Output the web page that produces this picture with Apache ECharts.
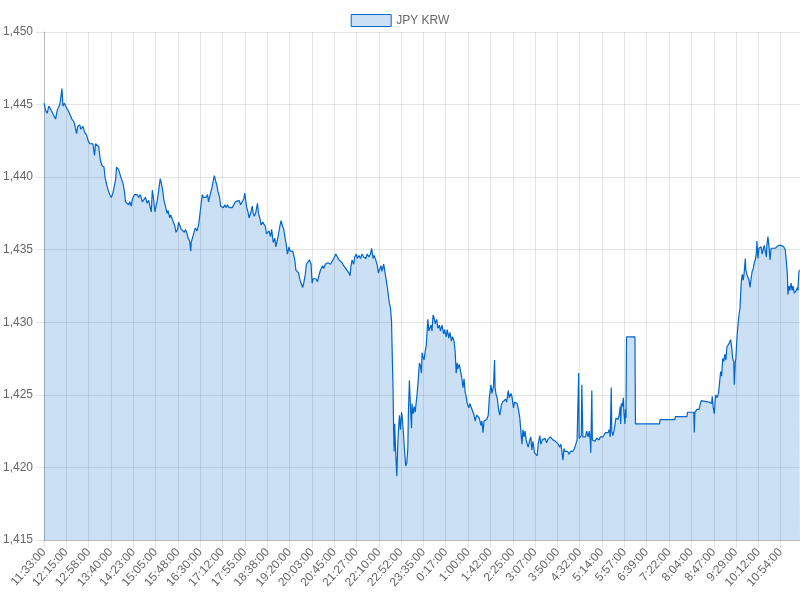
<!DOCTYPE html>
<html>
<head>
<meta charset="utf-8">
<title>JPY KRW</title>
<script src="https://cdn.jsdelivr.net/npm/echarts@6/dist/echarts.min.js"></script>
<style>
    html, body { margin: 0; padding: 0; background: #fff; }
    #mychart { width: 800px; height: 600px; }
</style>
</head>
<body>
<div id="mychart"></div>
<script>
// 数据：每分钟一个类目，从 11:33 开始
const seriesName = 'JPY KRW';
const startTime = '11:33';
const minuteCount = 1439;

// x轴显示的刻度文字
const tickLabels = [
    '11:33:00', '12:15:00', '12:58:00', '13:40:00', '14:23:00', '15:05:00', '15:48:00',
    '16:30:00', '17:12:00', '17:55:00', '18:38:00', '19:20:00', '20:03:00', '20:45:00',
    '21:27:00', '22:10:00', '22:52:00', '23:35:00', '0:17:00', '1:00:00', '1:42:00',
    '2:25:00', '3:07:00', '3:50:00', '4:32:00', '5:14:00', '5:57:00', '6:39:00',
    '7:22:00', '8:04:00', '8:47:00', '9:29:00', '10:12:00', '10:54:00'
];

// 读取的采样点：距 11:33 的分钟数
const sampleMinutes = [
    0, 3, 6, 9, 12, 15, 18, 22, 25, 28,
    30, 32, 34, 36, 39, 41, 44, 47, 50, 53,
    57, 60, 62, 64, 68, 70, 74, 77, 81, 84,
    87, 90, 93, 96, 98, 101, 104, 107, 110, 114,
    116, 119, 122, 125, 128, 131, 134, 136, 138, 142,
    145, 147, 150, 153, 155, 158, 161, 163, 166, 168,
    172, 175, 177, 180,
    183, 187, 190, 193, 196, 199, 202, 204, 206, 208,
    211, 213, 215, 217, 220, 221, 223, 226, 228, 231,
    234, 236, 239, 241, 244, 246, 249, 251, 254, 256,
    259, 261, 264, 267, 269, 272, 274, 277, 279, 280,
    283, 286, 288, 291, 294, 297, 299, 301, 303, 306,
    308, 311, 313, 316, 319, 321, 324, 326, 329, 331,
    334, 336, 339, 341, 344, 346, 349, 352, 355, 358,
    361,
    364, 367, 371, 374, 377, 380, 382, 385, 388, 390,
    393, 396, 398, 400, 403, 406, 408, 411, 413, 416,
    418, 421, 423, 426, 428, 431, 433, 436, 439, 441,
    444, 446, 449, 451, 453, 456, 458, 461, 463, 466,
    468, 470, 473, 475, 477, 479, 482, 484, 487, 489,
    492, 494, 497, 499, 502, 505, 506, 508, 510, 512,
    515, 517, 520, 522, 525, 527, 530, 532, 535, 537,
    540, 542,
    545, 548, 551, 555, 558, 561, 564, 567, 570, 574,
    577, 580, 582, 584, 586, 589, 591, 594, 596, 599,
    602, 605, 608, 612, 615, 618, 621, 623, 626, 628,
    631, 634, 636, 638, 641, 643, 646, 648, 651, 653,
    655, 657, 659, 661, 662, 664, 665, 666, 667, 669,
    671, 673, 674, 676, 678, 680, 681, 684, 686, 688,
    690, 692, 693, 695, 697, 699, 700, 702, 704, 706,
    708, 710, 712, 714, 716, 718, 719, 721, 723,
    725, 727, 728, 730, 732, 734, 736, 738, 740, 742,
    744, 747, 749, 752, 754, 757, 760, 762, 765, 767,
    770, 772, 775, 777, 780, 782, 784, 786, 787, 790,
    793, 795, 797, 799, 801, 803, 805, 808, 810, 813,
    815, 818, 820, 823, 826, 828, 831, 833, 835, 837,
    839, 842, 845, 847, 850, 852, 855, 857, 858, 860,
    862, 865, 867, 870, 872, 875, 878, 880, 883, 885,
    888, 890, 893, 895, 898, 900, 903,
    905, 907, 909, 911, 913, 915, 917, 919, 921, 924,
    926, 928, 930, 933, 935, 938, 940, 943, 945, 948,
    950, 953, 956, 958, 961, 963, 966, 968, 971, 973,
    976, 978, 981, 983, 985, 987, 989, 991, 994, 996,
    999, 1001, 1004, 1006, 1009, 1011, 1014, 1016, 1017, 1018,
    1020, 1022, 1023, 1025, 1027, 1030, 1032, 1035, 1037, 1039,
    1040, 1042, 1043, 1046, 1048, 1051, 1053, 1056, 1058, 1061,
    1063, 1066, 1068, 1071, 1073, 1075, 1077, 1079, 1080, 1082,
    1084,
    1086, 1088, 1090, 1092, 1094, 1096, 1097, 1098, 1100, 1102,
    1103, 1105, 1106, 1107, 1108, 1124, 1125, 1171, 1172, 1200,
    1201, 1223, 1224, 1236, 1237, 1238, 1242, 1246, 1250, 1265,
    1270, 1271, 1273, 1275, 1277, 1278, 1280, 1283, 1285, 1287,
    1289, 1291, 1293, 1295, 1297, 1299, 1301, 1302, 1304, 1306,
    1308, 1310, 1312, 1313, 1315, 1316, 1318, 1320, 1322, 1324,
    1326, 1328, 1330, 1332, 1334, 1335, 1337, 1339, 1341, 1343,
    1345, 1347, 1349, 1351, 1353, 1355, 1356, 1358, 1360, 1362,
    1364, 1366, 1368, 1370, 1372, 1374, 1375, 1377, 1379, 1381,
    1383, 1385, 1387, 1389, 1391, 1393, 1394, 1397, 1400, 1402,
    1405, 1407, 1410, 1412, 1414, 1415, 1417, 1419, 1421, 1423,
    1425, 1427, 1429, 1431, 1433, 1434, 1436, 1438
];

// 对应的汇率
const sampleValues = [
    1445.1, 1444.6, 1444.4, 1444.9, 1444.8, 1444.5, 1444.4, 1444.0, 1444.6, 1444.5,
    1445.0, 1445.5, 1446.1, 1444.9, 1445.1, 1444.9, 1445.0, 1444.5, 1444.4, 1444.0,
    1443.8, 1443.7, 1443.0, 1443.5, 1443.6, 1443.3, 1443.5, 1443.1, 1442.9, 1442.5,
    1442.3, 1442.4, 1442.3, 1441.5, 1442.3, 1442.4, 1442.1, 1441.2, 1440.8, 1440.7,
    1440.0, 1439.5, 1439.1, 1438.8, 1438.6, 1438.9, 1438.8, 1439.8, 1440.7, 1440.5,
    1440.5, 1439.9, 1439.6, 1439.0, 1438.3, 1438.2, 1438.1, 1438.3, 1438.0, 1438.5,
    1438.8, 1438.9, 1438.8, 1438.6,
    1438.8, 1438.3, 1438.3, 1438.6, 1438.2, 1438.4, 1437.9, 1437.6, 1439.1, 1438.6,
    1437.6, 1438.0, 1438.3, 1438.8, 1439.6, 1439.9, 1439.6, 1439.0, 1438.4, 1438.0,
    1437.5, 1437.7, 1437.2, 1437.4, 1437.1, 1437.2, 1436.6, 1436.2, 1436.4, 1436.9,
    1436.6, 1436.4, 1436.3, 1436.2, 1436.4, 1436.1, 1435.8, 1435.6, 1434.9, 1435.5,
    1435.9, 1436.3, 1436.5, 1436.3, 1436.7, 1437.6, 1438.2, 1438.8, 1438.6, 1438.7,
    1438.6, 1438.8, 1438.3, 1438.8, 1439.2, 1439.6, 1440.1, 1439.8, 1439.4, 1439.0,
    1438.6, 1438.0, 1438.1, 1437.9, 1438.1, 1437.9, 1438.1, 1437.9, 1438.0, 1437.9,
    1438.0,
    1438.3, 1438.2, 1438.4, 1438.1, 1438.3, 1438.5, 1438.9, 1438.0, 1437.6, 1437.2,
    1437.5, 1438.0, 1437.5, 1437.3, 1437.6, 1438.2, 1437.5, 1437.1, 1436.7, 1436.9,
    1436.9, 1436.6, 1436.1, 1436.0, 1436.3, 1435.9, 1436.4, 1435.5, 1435.8, 1435.2,
    1435.7, 1436.1, 1436.7, 1437.0, 1436.7, 1436.4, 1435.9, 1435.3, 1434.7, 1435.2,
    1434.9, 1435.0, 1434.9, 1434.9, 1434.3, 1433.6, 1433.7, 1433.4, 1432.9, 1432.8,
    1432.4, 1432.7, 1433.3, 1434.0, 1434.1, 1434.3, 1434.4, 1434.0, 1432.7, 1433.0,
    1432.9, 1433.0, 1432.8, 1432.9, 1433.5, 1433.7, 1433.9, 1433.7, 1434.0, 1433.9,
    1434.1, 1434.0,
    1434.0, 1434.2, 1434.4, 1434.7, 1434.5, 1434.3, 1434.4, 1434.1, 1433.9, 1433.7,
    1433.6, 1433.4, 1433.2, 1433.9, 1434.3, 1434.0, 1434.5, 1434.7, 1434.4, 1434.6,
    1434.4, 1434.7, 1434.5, 1434.4, 1434.7, 1434.5, 1434.7, 1435.1, 1434.4, 1434.6,
    1434.3, 1433.9, 1433.4, 1433.6, 1433.9, 1433.5, 1434.0, 1433.6, 1432.9, 1432.4,
    1432.3, 1431.3, 1431.0, 1430.1, 1428.4, 1425.2, 1422.6, 1421.1, 1423.0, 1421.0,
    1419.4, 1421.7, 1422.4, 1423.6, 1422.6, 1423.8, 1423.6, 1422.2, 1421.0, 1420.1,
    1420.3, 1421.3, 1423.6, 1426.0, 1424.2, 1422.7, 1424.4, 1423.7, 1424.2, 1423.8,
    1424.5, 1425.2, 1426.1, 1427.2, 1427.0, 1426.5, 1427.9, 1427.6, 1427.4,
    1428.0, 1428.4, 1429.0, 1430.2, 1429.4, 1429.6, 1429.8, 1429.4, 1430.5, 1430.3,
    1429.9, 1430.2, 1429.6, 1429.8, 1429.4, 1429.8, 1429.2, 1429.5, 1429.0, 1429.5,
    1428.9, 1429.3, 1428.7, 1429.0, 1428.7, 1428.0, 1426.5, 1427.2, 1426.8, 1427.1,
    1426.5, 1426.1, 1425.5, 1426.1, 1425.2, 1424.9, 1424.4, 1424.1, 1424.4, 1424.3,
    1423.9, 1423.6, 1423.2, 1423.6, 1423.6, 1423.4, 1422.9, 1423.2, 1422.4, 1423.2,
    1423.3, 1423.3, 1423.6, 1424.8, 1425.7, 1425.1, 1425.6, 1427.4, 1425.5, 1425.0,
    1424.8, 1423.9, 1423.6, 1424.3, 1424.5, 1424.4, 1424.7, 1424.5, 1425.3, 1424.8,
    1425.1, 1424.9, 1424.1, 1424.5, 1424.5, 1424.4, 1423.9,
    1423.4, 1422.5, 1421.6, 1422.6, 1422.1, 1422.5, 1421.9, 1421.8, 1421.4, 1421.9,
    1422.1, 1421.2, 1421.8, 1421.0, 1421.1, 1420.8, 1421.6, 1422.2, 1421.6, 1421.9,
    1421.8, 1422.0, 1421.7, 1421.9, 1421.8, 1422.1, 1422.2, 1421.9, 1422.0, 1421.8,
    1421.7, 1421.6, 1421.4, 1421.6, 1421.1, 1420.5, 1421.3, 1421.1, 1421.0, 1421.1,
    1420.9, 1421.1, 1421.0, 1421.1, 1421.3, 1421.4, 1421.9, 1422.0, 1426.5, 1422.0,
    1422.1, 1422.2, 1425.7, 1422.1, 1422.0, 1422.1, 1422.5, 1422.1, 1422.5, 1421.9,
    1421.0, 1425.3, 1421.9, 1422.0, 1421.8, 1422.0, 1421.9, 1421.9, 1422.1, 1422.2,
    1422.1, 1422.2, 1422.4, 1422.5, 1422.4, 1422.6, 1422.1, 1425.5, 1422.5, 1422.2,
    1422.5,
    1422.6, 1423.4, 1423.5, 1423.3, 1423.6, 1424.2, 1423.0, 1424.4, 1424.2, 1424.8,
    1423.8, 1423.0, 1424.0, 1423.4, 1429.0, 1429.0, 1423.0, 1423.0, 1423.3, 1423.3,
    1423.5, 1423.5, 1423.8, 1423.8, 1422.4, 1423.8, 1424.0, 1424.0, 1424.6, 1424.5,
    1424.4, 1424.9, 1424.1, 1423.7, 1424.8, 1425.0, 1424.8, 1425.1, 1425.2, 1426.6,
    1426.3, 1427.5, 1427.3, 1427.8, 1427.4, 1428.3, 1428.4, 1428.3, 1428.6, 1428.8,
    1428.3, 1427.5, 1427.3, 1425.7, 1427.3, 1427.5, 1428.9, 1429.8, 1430.5, 1431.0,
    1432.6, 1433.3, 1432.9, 1433.5, 1434.4, 1433.6, 1433.3, 1433.4, 1432.9, 1432.4,
    1433.0, 1433.5, 1433.7, 1434.1, 1434.3, 1434.8, 1435.6, 1434.4, 1435.1, 1435.0,
    1435.2, 1434.7, 1435.0, 1435.3, 1435.2, 1434.5, 1435.3, 1435.9, 1435.2, 1434.3,
    1435.1, 1435.2, 1435.1, 1435.2, 1435.1, 1435.1, 1435.2, 1435.3, 1435.3, 1435.3,
    1435.3, 1435.2, 1435.0, 1434.2, 1433.3, 1431.9, 1432.5, 1432.2, 1432.7, 1432.2,
    1432.5, 1432.0, 1432.1, 1432.2, 1432.4, 1432.2, 1433.5, 1433.6
];

// y轴范围
const yMin = 1415;
const yMax = 1450;
const yStep = 5;

// 每分钟的类目文字
function buildCategories() {
    let parts = startTime.split(':');
    let start = parseInt(parts[0], 10) * 60 + parseInt(parts[1], 10);
    let list = [];
    for (let i = 0; i < minuteCount; i++) {
        let t = start + i;
        let h = Math.floor(t / 60) % 24;
        let m = t % 60;
        list.push(h + ':' + (m < 10 ? '0' + m : m) + ':00');
    }
    return list;
}

const categories = buildCategories();
const tickSet = new Set(tickLabels);
const showTick = (idx, val) => tickSet.has(val);

if (sampleMinutes.length !== sampleValues.length) {
    console.warn('length mismatch', sampleMinutes.length, sampleValues.length);
}
const seriesData = sampleMinutes.map((m, i) => [m, sampleValues[i]]);

const fontFamily = '"Helvetica Neue", Helvetica, Arial, "Liberation Sans", sans-serif';
const lineColor = 'rgb(0,102,204)';
const fillColor = 'rgba(0,102,204,0.2)';
const gridColor = 'rgba(0,0,0,0.1)';

const myChart = echarts.init(document.getElementById('mychart'));
const option = {
    animation: false,
    backgroundColor: '#fff',
    textStyle: { fontFamily: fontFamily },
    legend: {
        top: 9,
        left: 'center',
        itemWidth: 40,
        itemHeight: 12,
        itemGap: 10,
        textStyle: { color: '#666', fontSize: 12, fontFamily: fontFamily },
        data: [{
            name: seriesName,
            icon: 'rect',
            itemStyle: { color: fillColor, borderColor: lineColor, borderWidth: 1 }
        }]
    },
    grid: {
        left: 44,
        right: 0,
        top: 32,
        bottom: 60,
        containLabel: false
    },
    xAxis: {
        type: 'category',
        boundaryGap: false,
        data: categories,
        axisLine: { lineStyle: { color: 'rgba(0,0,0,0.19)', width: 1 } },
        axisTick: {
            show: true,
            length: 8,
            interval: showTick,
            lineStyle: { color: gridColor }
        },
        axisLabel: {
            interval: showTick,
            rotate: 48,
            margin: 10,
            color: '#666',
            fontSize: 12,
            fontFamily: fontFamily
        },
        splitLine: {
            show: true,
            interval: showTick,
            lineStyle: { color: gridColor, width: 1 }
        }
    },
    yAxis: {
        type: 'value',
        min: yMin,
        max: yMax,
        interval: yStep,
        axisLine: { show: true, lineStyle: { color: 'rgba(0,0,0,0.19)', width: 1 } },
        axisTick: { show: true, length: 8, lineStyle: { color: gridColor } },
        axisLabel: {
            margin: 11,
            color: '#666',
            fontSize: 12,
            fontFamily: fontFamily,
            formatter: v => v.toLocaleString('en-US')
        },
        splitLine: { show: true, lineStyle: { color: gridColor, width: 1 } }
    },
    series: [{
        name: seriesName,
        type: 'line',
        data: seriesData,
        showSymbol: false,
        symbol: 'none',
        smooth: false,
        lineStyle: { color: lineColor, width: 1.2 },
        itemStyle: { color: lineColor },
        areaStyle: { color: fillColor, opacity: 1, origin: 'start' }
    }]
};
myChart.setOption(option);
</script>
</body>
</html>
